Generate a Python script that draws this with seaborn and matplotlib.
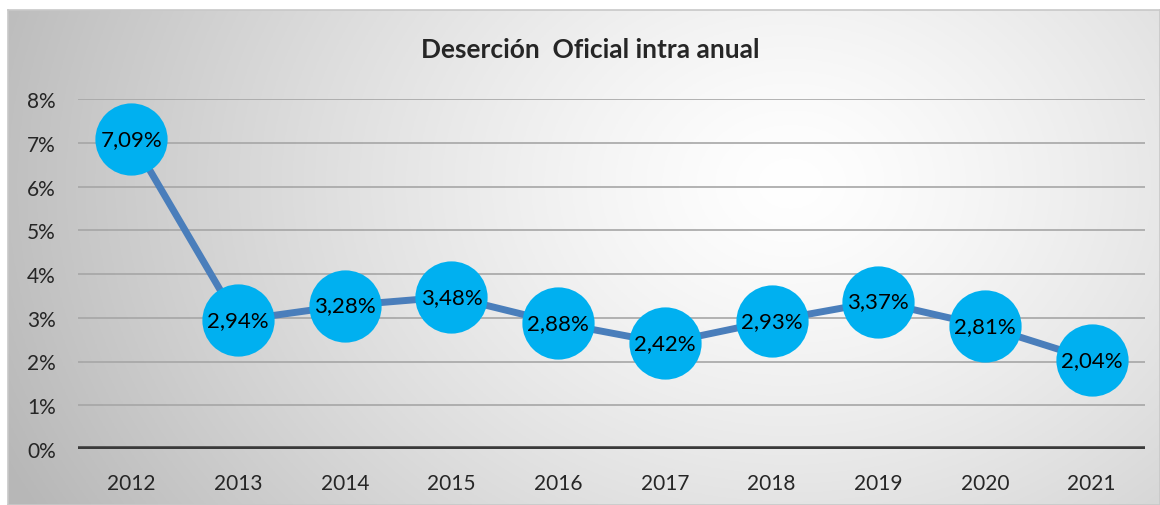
import numpy as np
import pandas as pd
import matplotlib
matplotlib.use('Agg')
import matplotlib.pyplot as plt
import seaborn as sns

# Data
years = ['2012', '2013', '2014', '2015', '2016', '2017', '2018', '2019', '2020', '2021']
desercion = [7.09, 2.94, 3.28, 3.48, 2.88, 2.42, 2.93, 3.37, 2.81, 2.04]
y_ticks = [0, 1, 2, 3, 4, 5, 6, 7, 8]
title = 'Deserción  Oficial intra anual'

df = pd.DataFrame({'year': years, 'value': desercion})

sns.set_style('white')
plt.rcParams['font.family'] = ['Lato', 'DejaVu Sans']

fig = plt.figure(figsize=(11.6, 5.06), dpi=100)

# Radial gradient background (chart area frame)
bg = fig.add_axes([8 / 1160, 0, 1 - 8 / 1160, 1 - 11 / 506], zorder=0)
gx, gy = np.meshgrid(np.linspace(0, 1, 400), np.linspace(0, 1, 200))
dist = np.sqrt(((gx - 0.68) * 1.0) ** 2 + ((gy - 0.35) * 0.55) ** 2)
shade = 1.0 - 0.28 * np.clip(dist / 0.75, 0, 1) ** 1.3
img = np.dstack([shade, shade, shade])
bg.imshow(img, aspect='auto', extent=[0, 1, 0, 1], origin='upper')
bg.set_xticks([])
bg.set_yticks([])
for s in bg.spines.values():
    s.set_color('#c8c8c8')
    s.set_linewidth(1.2)

# Main plot
ax = fig.add_axes([78 / 1160, (506 - 450) / 506, (1145 - 78) / 1160, 350 / 506], zorder=1)
ax.patch.set_alpha(0)

for t in y_ticks[1:]:
    ax.axhline(t, color='#a6a6a6', lw=1.2, zorder=1)
ax.axhline(0, color='#3a3a3a', lw=4, zorder=1)

sns.lineplot(data=df, x='year', y='value', ax=ax, color='#4a7ebb', lw=5,
             marker='o', markersize=52, markerfacecolor='#00b0f0',
             markeredgewidth=0, zorder=3, sort=False)

for i, v in enumerate(desercion):
    ax.text(i, v, f'{v:.2f}%'.replace('.', ','), ha='center', va='center',
            fontsize=16, color='black', zorder=4)

ax.set_xlim(-0.5, len(years) - 0.5)
ax.set_ylim(0, 8)
ax.set_yticks(y_ticks)
ax.set_yticklabels([f'{t}%' for t in y_ticks], fontsize=15)
ax.set_xticks(range(len(years)))
ax.set_xticklabels(years, fontsize=15)
ax.tick_params(axis='x', length=0, pad=17)
ax.tick_params(axis='y', length=0, pad=16)
ax.set_xlabel('')
ax.set_ylabel('')
for s in ax.spines.values():
    s.set_visible(False)

fig.text(0.509, (506 - 50) / 506, title, ha='center', va='center',
         fontsize=19, fontweight='bold')

fig.savefig('out.png', dpi=100)
